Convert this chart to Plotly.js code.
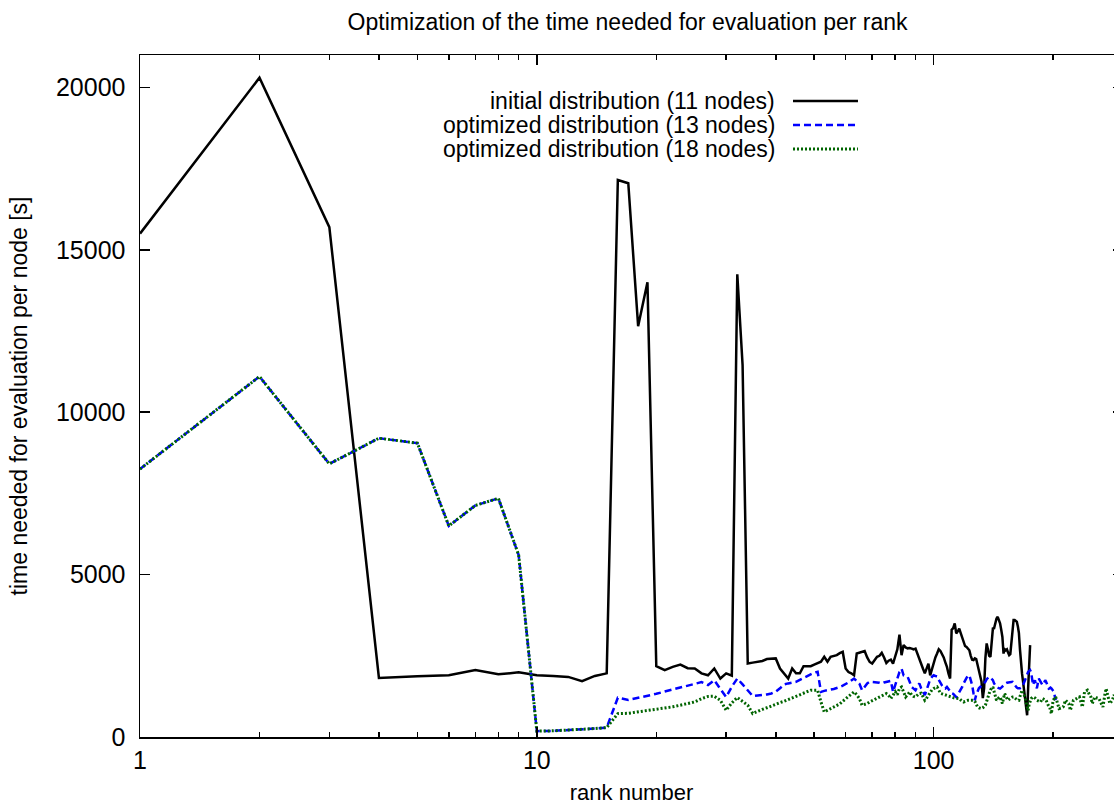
<!DOCTYPE html>
<html>
<head>
<meta charset="utf-8">
<script src="https://cdn.plot.ly/plotly-3.0.1.min.js"></script>
<style>
  html, body { margin: 0; padding: 0; background: #ffffff; overflow: hidden; }
  #chart { width: 1124px; height: 805px; }
</style>
</head>
<body>
<div id="chart"></div>
<script>
// Evaluation time per rank for three node distributions.

const seriesNames = [
  'initial distribution (11 nodes)',
  'optimized distribution (13 nodes)',
  'optimized distribution (18 nodes)'
];

// initial distribution, 11 nodes
const rankInitial = [
  1,2,3,4,5,6,7,8,9,10,11,12,13,14,15,16,17,18,19,20,
  21,22,23,24,25,26,27,28,29,30,31,32,33,34,35,36,37,38,39,40,
  41,42,43,44,45,46,47,48,49,50,51,52,53,54,55,56,57,58,59,60,
  61,62,63,64,65,66,67,68,69,70,71,72,73,74,75,76,77,78,79,80,
  81,82,83,84,85,86,87,88,89,90,91,92,93,94,95,96,97,98,99,100,
  101,102,103,104,105,106,107,108,109,110,111,112,113,114,115,116,117,118,119,120,
  121,122,123,124,125,126,127,128,129,130,131,132,133,134,135,136,137,138,139,140,
  141,142,143,144,145,146,147,148,149,150,151,152,153,154,155,156,157,158,159,160,
  161,162,163,164,165,166,167,168,169,170,171,172,173,174,175
];
const timeInitial = [
  15500,20300,15700,1820,1870,1900,2060,1930,1990,1900,1880,1850,1720,1880,1960,17150,17050,12650,14000,2180,
  2060,2160,2230,2120,2110,1960,1900,2110,1800,1960,1890,14250,11450,2260,2290,2310,2340,2400,2420,2420,
  2110,1950,1800,2110,1960,1960,2180,2180,2180,2230,2280,2320,2470,2320,2470,2500,2520,2580,2620,2110,
  2000,1960,1900,2570,2600,2620,2650,2450,2310,2260,2370,2470,2500,2590,2450,2280,2350,2380,2260,2470,
  2700,3150,2520,2830,2760,2730,2740,2720,2700,2720,2550,2420,2260,2100,1960,2150,2260,1900,2100,2260,
  2450,2570,2700,2650,2570,2450,2300,2160,1950,1800,3300,3350,3500,3190,3250,3340,3200,3050,2950,2800,
  2770,2720,2670,2500,2380,2370,2420,2400,2200,2000,1800,1700,1200,1500,2420,2880,2700,2500,2470,2900,
  3340,3350,3500,3650,3700,3600,3500,3300,3080,2570,2700,2670,2700,2600,2520,2550,3000,3400,3600,3600,
  3560,3550,3400,3200,2700,2200,1950,1700,1400,1130,900,670,1500,2160,2830
];

// optimized distribution, 13 nodes
const rank13 = [
  1,2,3,4,5,6,7,8,9,10,11,12,13,14,15,16,17,18,19,20,
  21,22,23,24,25,26,27,28,29,30,31,32,33,34,35,36,37,38,39,40,
  41,42,43,44,45,46,47,48,49,50,51,52,53,54,55,56,57,58,59,60,
  61,62,63,64,65,66,67,68,69,70,71,72,73,74,75,76,77,78,79,80,
  81,82,83,84,85,86,87,88,89,90,91,92,93,94,95,96,97,98,99,100,
  101,102,103,104,105,106,107,108,109,110,111,112,113,114,115,116,117,118,119,120,
  121,122,123,124,125,126,127,128,129,130,131,132,133,134,135,136,137,138,139,140,
  141,142,143,144,145,146,147,148,149,150,151,152,153,154,155,156,157,158,159,160,
  161,162,163,164,165,166,167,168,169,170,171,172,173,174,175,176,177,178,179,180,
  181,182,183,184,185,186,187,188,189,190,191,192,193,194,195,196,197,198,199,200,
  201,202,203
];
const time13 = [
  8250,11100,8410,9200,9050,6500,7130,7350,5600,180,190,210,230,260,290,1210,1140,1200,1260,1330,
  1400,1460,1520,1580,1640,1690,1600,1750,1480,1230,1550,1800,1620,1450,1260,1280,1290,1310,1340,1400,
  1500,1620,1650,1680,1700,1760,1820,1870,1930,1980,2010,1390,1420,1450,1460,1480,1500,1540,1580,1620,
  1680,1740,1800,1720,1640,1440,1560,1650,1700,1700,1690,1680,1670,1650,1680,1700,1720,1730,1390,1600,
  1750,2000,2100,1900,1880,1850,1700,1540,1490,1440,1550,1650,1500,1380,1290,1450,1650,1780,1850,1900,
  1880,1870,1760,1650,1580,1500,1490,1540,1480,1400,1350,1330,1280,1230,1300,1380,1440,1540,1650,1750,
  1820,1880,1900,1750,1600,1350,1130,1300,1440,1500,1540,1580,1600,1650,1700,1780,1830,1850,1820,1790,
  1750,1650,1580,1540,1520,1500,1490,1520,1560,1600,1620,1650,1670,1680,1690,1700,1700,1700,1650,1600,
  1550,1520,1500,1490,1500,1520,1540,1600,1680,1750,1850,1950,2000,2030,2060,2000,1800,1600,1680,1750,
  1600,1500,1650,1800,1750,1700,1650,1600,1620,1700,1750,1700,1620,1550,1490,1500,1520,1500,1450,1400,
  1390,1250,1130
];

// optimized distribution, 18 nodes
const rank18 = [
  1,2,3,4,5,6,7,8,9,10,11,12,13,14,15,16,17,18,19,20,
  21,22,23,24,25,26,27,28,29,30,31,32,33,34,35,36,37,38,39,40,
  41,42,43,44,45,46,47,48,49,50,51,52,53,54,55,56,57,58,59,60,
  61,62,63,64,65,66,67,68,69,70,71,72,73,74,75,76,77,78,79,80,
  81,82,83,84,85,86,87,88,89,90,91,92,93,94,95,96,97,98,99,100,
  101,102,103,104,105,106,107,108,109,110,111,112,113,114,115,116,117,118,119,120,
  121,122,123,124,125,126,127,128,129,130,131,132,133,134,135,136,137,138,139,140,
  141,142,143,144,145,146,147,148,149,150,151,152,153,154,155,156,157,158,159,160,
  161,162,163,164,165,166,167,168,169,170,171,172,173,174,175,176,178,180,182,184,
  186,188,190,192,194,196,198,200,203,205,207,210,212,215,217,219,221,223,225,229,
  233,235,237,240,244,247,249,251,253,255,258,261,264,267,270,272,275,278,282,285,
  288,291,294,297,300
];
const time18 = [
  8250,11100,8410,9200,9050,6500,7130,7350,5600,180,190,210,230,260,290,720,730,770,810,850,
  890,930,980,1030,1080,1180,1250,1255,1130,823,1050,1215,1100,980,722,800,850,900,960,1010,
  1060,1100,1150,1200,1240,1290,1350,1400,1440,1440,1440,1080,770,823,870,920,970,1020,1100,1180,
  1250,1320,1390,1300,1183,978,1000,1029,1080,1120,1160,1200,1230,1270,1300,1337,1280,1183,1286,1400,
  1300,1500,1540,1350,1234,1300,1388,1300,1250,1234,1300,1340,1350,1250,1132,1200,1286,1380,1450,1492,
  1520,1542,1450,1350,1330,1310,1310,1280,1250,1234,1220,1213,1200,1190,1185,1183,1140,1100,1080,1100,
  1120,1132,1132,1132,1132,1132,1100,1000,925,900,880,875,900,950,978,1100,1250,1337,1450,1520,
  1542,1400,1250,1132,1180,1220,1234,1132,1029,1200,1337,1250,1180,1132,1160,1190,1210,1230,1234,1200,
  1170,1150,1140,1132,1250,1350,1440,1350,1280,1234,1050,900,823,1000,1132,1180,1234,1200,1132,1100,
  1080,1183,1150,1132,1000,925,720,1132,1234,1050,875,900,925,1132,1080,1029,823,1000,1132,1180,
  1234,1080,925,1388,1440,1300,1234,1029,1130,1234,1200,1183,1050,925,1300,1492,1250,1029,1132,1300,
  1000,1400,1100,900,1200
];

const xTickVals = [1, 10, 100];
const xTickText = ['1', '10', '100'];
const xMinorVals = [2,3,4,5,6,7,8,9,20,30,40,50,60,70,80,90,200,300];
const yTickVals = [0, 5000, 10000, 15000, 20000];
const yTickText = ['0', '5000', '10000', '15000', '20000'];

const FONT = 'Liberation Sans, Arial, Helvetica, sans-serif';
const TEXT_SIZE = 23;
const TICK_SIZE = 25;
const lineColors = ['#000000', '#0000ff', '#006400'];
const lineDash = ['solid', '7px,4px', '2px,2px'];
const lineWidth = [2.5, 2.5, 3];

const traces = [
  { x: rankInitial, y: timeInitial },
  { x: rank13, y: time13 },
  { x: rank18, y: time18 }
].map((d, i) => ({
  type: 'scatter',
  mode: 'lines',
  name: seriesNames[i],
  x: d.x,
  y: d.y,
  line: { color: lineColors[i], width: lineWidth[i], dash: lineDash[i] },
  showlegend: false,
  hoverinfo: 'x+y'
}));

// key: text right-aligned, sample line to the right of it
const keyTextX = 0.648;
const keySampleX0 = 0.6643;
const keySampleX1 = 0.7304;
const keyRowsY = [0.9326, 0.8974, 0.8622];

const annotations = seriesNames.map((name, i) => ({
  xref: 'paper', yref: 'paper',
  x: keyTextX, y: keyRowsY[i],
  xanchor: 'right', yanchor: 'middle',
  text: name, showarrow: false,
  font: { family: FONT, size: TEXT_SIZE, color: '#000000' }
}));

const shapes = seriesNames.map((name, i) => ({
  type: 'line', xref: 'paper', yref: 'paper',
  x0: keySampleX0, x1: keySampleX1, y0: keyRowsY[i], y1: keyRowsY[i],
  line: { color: lineColors[i], width: lineWidth[i], dash: lineDash[i] }
}));

const axisCommon = {
  showgrid: false, zeroline: false,
  ticks: 'inside', tickcolor: '#000000', tickwidth: 1.5,
  showline: true, linecolor: '#000000', linewidth: 1.5,
  mirror: 'ticks',
  tickfont: { family: FONT, size: TICK_SIZE, color: '#000000' }
};

const layout = {
  width: 1124, height: 805,
  margin: { l: 140, r: 1, t: 55, b: 68 },
  paper_bgcolor: '#ffffff', plot_bgcolor: '#ffffff',
  font: { family: FONT, size: TEXT_SIZE, color: '#000000' },
  title: {
    text: 'Optimization of the time needed for evaluation per rank',
    font: { family: FONT, size: TEXT_SIZE, color: '#000000' },
    xref: 'paper', x: 0.496, xanchor: 'center',
    yref: 'container', y: 1 - 22 / 805, yanchor: 'middle'
  },
  xaxis: Object.assign({}, axisCommon, {
    type: 'log',
    range: [0, Math.log10(300)],
    tickmode: 'array', tickvals: xTickVals, ticktext: xTickText,
    ticklen: 10,
    minor: {
      tickmode: 'array', tickvals: xMinorVals,
      ticks: 'inside', ticklen: 5, tickcolor: '#000000', tickwidth: 1.5,
      showgrid: false
    },
    title: { text: 'rank number', font: { family: FONT, size: 22, color: '#000000' }, standoff: 21 },
    automargin: false
  }),
  yaxis: Object.assign({}, axisCommon, {
    range: [0, 21000],
    tickmode: 'array', tickvals: yTickVals, ticktext: yTickText,
    ticklen: 10, ticklabelstandoff: 8,
    title: { text: 'time needed for evaluation per node [s]', font: { family: FONT, size: TEXT_SIZE, color: '#000000' }, standoff: 22 },
    automargin: false
  }),
  annotations: annotations,
  shapes: shapes
};

Plotly.newPlot('chart', traces, layout, { displayModeBar: false, staticPlot: true });
</script>
</body>
</html>
